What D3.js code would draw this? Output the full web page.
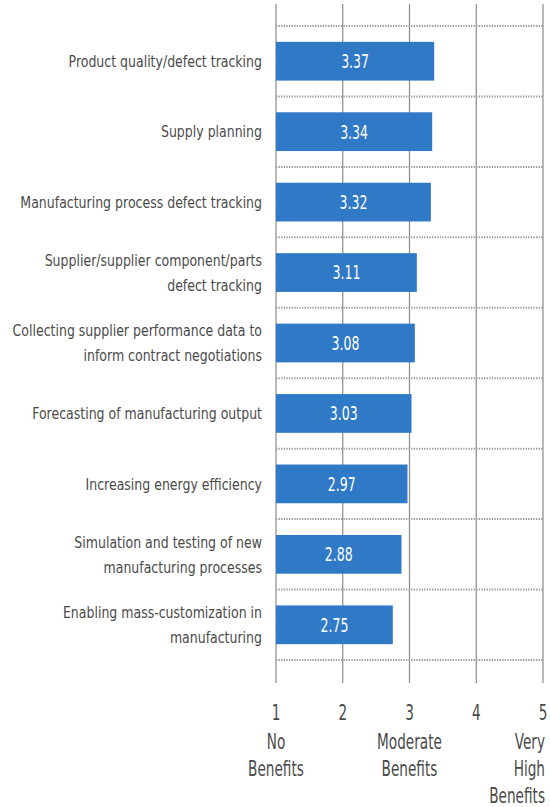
<!DOCTYPE html>
<html>
<head>
  <meta charset="utf-8">
  <script src="https://d3js.org/d3.v7.min.js"></script>
  <style>
    body { margin: 0; background: #fff; }
    svg { display: block; }
    text { font-family: "DejaVu Sans", sans-serif; }
  </style>
</head>
<body>
  <div id="chart"></div>
  <script>
    // categories, top to bottom (each entry = lines of the label)
    const categories = [
      ["Product quality/defect tracking"],
      ["Supply planning"],
      ["Manufacturing process defect tracking"],
      ["Supplier/supplier component/parts", "defect tracking"],
      ["Collecting supplier performance data to", "inform contract negotiations"],
      ["Forecasting of manufacturing output"],
      ["Increasing energy efficiency"],
      ["Simulation and testing of new", "manufacturing processes"],
      ["Enabling mass-customization in", "manufacturing"]
    ];
    const values = [3.37, 3.34, 3.32, 3.11, 3.08, 3.03, 2.97, 2.88, 2.75];
    const tickValues = [1, 2, 3, 4, 5];
    const tickLabels = [["No", "Benefits"], [], ["Moderate", "Benefits"], [], ["Very", "High", "Benefits"]];

    const width = 550, height = 807;
    const svg = d3.select("#chart").append("svg")
      .attr("width", width)
      .attr("height", height);

    const x = d3.scaleLinear().domain([1, 5]).range([276, 543]);
    const y = d3.scaleBand()
      .domain(d3.range(categories.length))
      .range([26, 660])
      .paddingInner(0.45)
      .paddingOuter(0.225);

    const bounds = d3.range(categories.length + 1).map(i => 26 + i * (660 - 26) / categories.length);
    const textColor = "#4a4a4a";

    // vertical gridlines
    svg.selectAll("line.grid")
      .data(tickValues)
      .join("line")
      .attr("class", "grid")
      .attr("x1", d => x(d)).attr("x2", d => x(d))
      .attr("y1", 4).attr("y2", 683)
      .attr("stroke", "#8a8a8a")
      .attr("stroke-width", 1.2);

    // dotted separators
    svg.selectAll("line.sep")
      .data(bounds)
      .join("line")
      .attr("class", "sep")
      .attr("x1", x(1)).attr("x2", x(5))
      .attr("y1", d => d).attr("y2", d => d)
      .attr("stroke", "#9a9a9a")
      .attr("stroke-width", 2)
      .attr("stroke-dasharray", "1.3,1.3");

    // bars
    svg.selectAll("rect.bar")
      .data(values)
      .join("rect")
      .attr("class", "bar")
      .attr("x", x(1))
      .attr("y", (d, i) => y(i))
      .attr("width", d => x(d) - x(1))
      .attr("height", y.bandwidth())
      .attr("fill", "#3079c6");

    // value labels (narrow, like the condensed original)
    svg.selectAll("g.val")
      .data(values)
      .join("g")
      .attr("class", "val")
      .attr("transform", (d, i) => `translate(${(x(1) + x(d)) / 2},${y(i) + y.bandwidth() / 2}) scale(0.66,1)`)
      .append("text")
      .attr("dy", "0.36em")
      .attr("text-anchor", "middle")
      .attr("fill", "#fff")
      .style("font-size", "19px")
      .text(d => d.toFixed(2));

    // category labels
    svg.selectAll("g.cat")
      .data(categories)
      .join("g")
      .attr("class", "cat")
      .attr("transform", (d, i) => `translate(262,${y(i) + y.bandwidth() / 2}) scale(0.76,1)`)
      .each(function(lines) {
        const lh = 25;
        const y0 = -(lines.length - 1) * lh / 2;
        d3.select(this).append("text")
          .attr("text-anchor", "end")
          .attr("fill", textColor)
          .style("font-size", "16.5px")
          .selectAll("tspan")
          .data(lines)
          .join("tspan")
          .attr("x", 0)
          .attr("y", (t, j) => y0 + j * lh)
          .attr("dy", "0.35em")
          .text(t => t);
      });

    // axis tick labels
    const ticks = svg.selectAll("g.tick")
      .data(tickValues)
      .join("g")
      .attr("class", "tick");
    ticks.append("g")
      .attr("transform", d => `translate(${x(d)},720) scale(0.62,1)`)
      .append("text")
      .attr("text-anchor", "middle")
      .attr("fill", textColor)
      .style("font-size", "22px")
      .text(d => d);
    ticks.each(function(d, i) {
      const lines = tickLabels[i];
      const anchor = i === 4 ? "end" : "middle";
      const tx = i === 4 ? x(d) + 2 : x(d);
      d3.select(this).selectAll("g.sub")
        .data(lines)
        .join("g")
        .attr("class", "sub")
        .attr("transform", (t, j) => `translate(${tx},${749 + j * 27}) scale(0.62,1)`)
        .append("text")
        .attr("text-anchor", anchor)
        .attr("fill", textColor)
        .style("font-size", "22px")
        .text(t => t);
    });
  </script>
</body>
</html>
